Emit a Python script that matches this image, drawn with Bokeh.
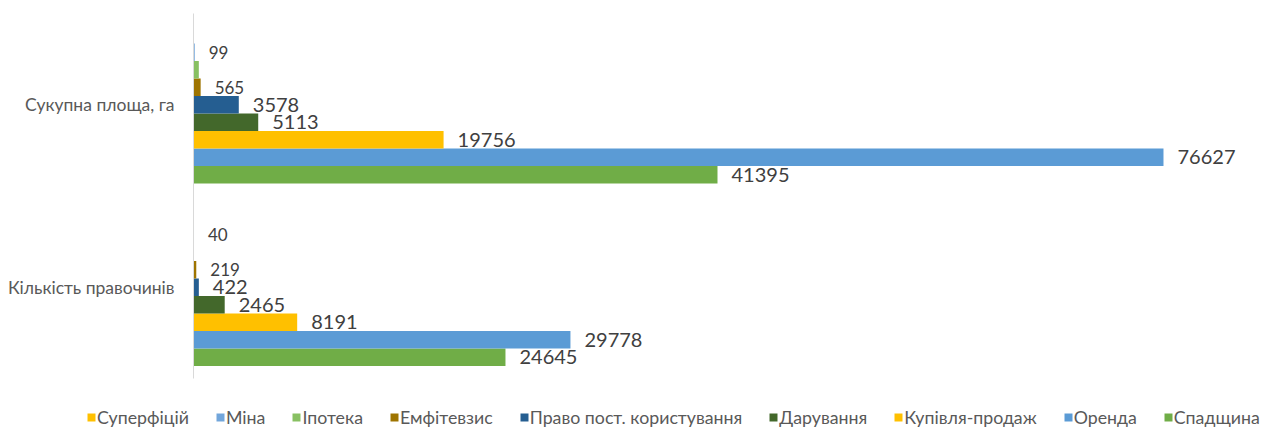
from bokeh.plotting import figure
from bokeh.models import ColumnDataSource, Range1d, FactorRange, Legend, LegendItem
from bokeh.transform import dodge
from bokeh.core.properties import value
from bokeh.embed import file_html
from bokeh.resources import INLINE

# ---- data ----
categories = ["Кількість правочинів", "Сукупна площа, га"]   # bottom -> top
legend_order = ["Суперфіцій", "Міна", "Іпотека", "Емфітевзис",
                "Право пост. користування", "Дарування", "Купівля-продаж",
                "Оренда", "Спадщина"]
# values per series: [Кількість правочинів, Сукупна площа, га]
superfitsii = [0, 0]
mina = [40, 99]
ipoteka = [15, 420]
emfitevzys = [219, 565]
pravo_post = [422, 3578]
daruvannia = [2465, 5113]
kupivlia = [8191, 19756]
orenda = [29778, 76627]
spadshchyna = [24645, 41395]

series_values = {
    "Суперфіцій": superfitsii,
    "Міна": mina,
    "Іпотека": ipoteka,
    "Емфітевзис": emfitevzys,
    "Право пост. користування": pravo_post,
    "Дарування": daruvannia,
    "Купівля-продаж": kupivlia,
    "Оренда": orenda,
    "Спадщина": spadshchyna,
}
labeled_series = ["Міна", "Емфітевзис", "Право пост. користування", "Дарування",
                  "Купівля-продаж", "Оренда", "Спадщина"]

# ---- styles ----
colors = {
    "Суперфіцій": "#FFC000",
    "Міна": "#72A6DB",
    "Іпотека": "#88C062",
    "Емфітевзис": "#9E7400",
    "Право пост. користування": "#255E91",
    "Дарування": "#43682B",
    "Купівля-продаж": "#FFC000",
    "Оренда": "#5B9BD5",
    "Спадщина": "#70AD47",
}
label_sizes = {"Міна": "17px", "Емфітевзис": "17px"}
FONT = "Lato"

p = figure(width=1271, height=385, output_backend="svg", toolbar_location=None,
           y_range=FactorRange(*categories, range_padding=0),
           x_range=Range1d(0, 85160),
           min_border_left=193, min_border_right=0, min_border_top=13,
           min_border_bottom=7)
p.y_range.factor_padding = 0
p.outline_line_color = None
p.xgrid.visible = False
p.ygrid.visible = False
p.xaxis.visible = False

bar_h = 0.0959
n = len(legend_order)
# bottom-to-top order within group is reversed legend order
for idx, name in enumerate(reversed(legend_order)):
    offset = (idx - (n - 1) / 2) * bar_h
    src = ColumnDataSource(dict(cat=categories, val=series_values[name],
                                lab=[str(v) for v in series_values[name]]))
    p.hbar(y=dodge("cat", offset, range=p.y_range), right="val", left=0,
           height=bar_h, source=src, fill_color=colors[name], line_color=None)
    if name in labeled_series:
        p.text(x="val", y=dodge("cat", offset, range=p.y_range), text="lab",
               source=src, x_offset=14, text_baseline="middle", text_align="left",
               text_font=value(FONT), text_font_size=label_sizes.get(name, "20px"),
               text_color="#404040")

yax = p.yaxis[0]
yax.axis_line_color = "#D9D9D9"
yax.axis_line_width = 1
yax.major_tick_line_color = None
yax.minor_tick_line_color = None
yax.major_label_text_font = FONT
yax.major_label_text_font_size = "17.5px"
yax.major_label_text_color = "#595959"
yax.major_label_standoff = 13

# ---- legend strip ----
lg = figure(width=1271, height=42, output_backend="svg", toolbar_location=None,
            x_range=Range1d(0, 1), y_range=Range1d(0, 1),
            min_border_left=0, min_border_right=0, min_border_top=0,
            min_border_bottom=0)
lg.outline_line_color = None
lg.xgrid.visible = False
lg.ygrid.visible = False
lg.xaxis.visible = False
lg.yaxis.visible = False

items = []
for name in legend_order:
    # swatch-only renderer placed outside the visible range
    r = lg.hbar(y=[5], left=[5], right=[6], height=1,
                fill_color=colors[name], line_color=None)
    items.append(LegendItem(label=name, renderers=[r]))

legend = Legend(items=items, orientation="horizontal", location=(86, -1),
                glyph_width=10, glyph_height=10, label_standoff=1, spacing=26,
                padding=0, margin=0, border_line_color=None,
                background_fill_alpha=0,
                label_text_font=FONT, label_text_font_size="17.75px",
                label_text_color="#595959", label_height=16)
lg.add_layout(legend, "center")

open("out.html", "w").write(file_html([p, lg], INLINE))
